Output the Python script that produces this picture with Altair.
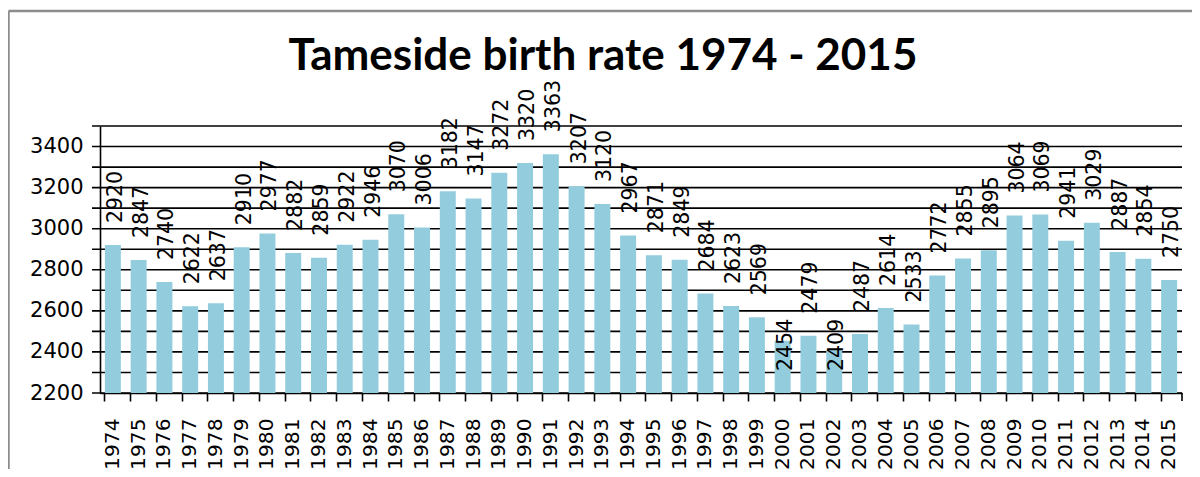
import altair as alt
import pandas as pd

years = [str(y) for y in range(1974, 2016)]
births = [2920, 2847, 2740, 2622, 2637, 2910, 2977, 2882, 2859, 2922,
          2946, 3070, 3006, 3182, 3147, 3272, 3320, 3363, 3207, 3120,
          2967, 2871, 2849, 2684, 2623, 2569, 2454, 2479, 2409, 2487,
          2614, 2533, 2772, 2855, 2895, 3064, 3069, 2941, 3029, 2887,
          2854, 2750]
grid_values = list(range(2200, 3600, 100))
label_values = list(range(2200, 3600, 200))
y_min, y_max = 2200, 3500
title_text = "Tameside birth rate 1974 - 2015"

df = pd.DataFrame({"year": years, "births": births})
grid_df = pd.DataFrame({"v": grid_values})

W, H = 1082, 267
FONT = "DejaVu Sans"
BAR = "#93CDDD"

yscale = alt.Scale(domain=[y_min, y_max], nice=False, zero=False)

grid = alt.Chart(grid_df).mark_rule(color="black", strokeWidth=1.6).encode(
    y=alt.Y("v:Q", scale=yscale, title=None,
            axis=alt.Axis(values=label_values, format="d", labelFont=FONT,
                          labelFontSize=21, labelColor="black",
                          labelPadding=17, ticks=False, tickSize=8,
                          domainColor="black", domainWidth=1.6, grid=False)),
    x=alt.value(-8), x2=alt.value(W),
)

bars = alt.Chart(df).mark_bar(color=BAR).encode(
    x=alt.X("year:N", sort=years, title=None,
            scale=alt.Scale(paddingInner=0.38, paddingOuter=0.19),
            axis=alt.Axis(labelAngle=270, labelFont=FONT, labelFontSize=20.2,
                          labelColor="black", labelPadding=17, tickSize=8,
                          tickColor="black", tickWidth=1.6, domainColor="black",
                          domainWidth=1.6, bandPosition=0, grid=False,
                          labelOverlap=False)),
    y=alt.Y("births:Q", scale=yscale),
    y2=alt.datum(y_min),
)

labels = alt.Chart(df).transform_calculate(
    lab="datum.births < 2460 ? 2200 : datum.births"
).mark_text(angle=270, align="left", baseline="middle", dx=22, dy=3,
            font=FONT, fontSize=20.5, color="black").encode(
    x=alt.X("year:N", sort=years),
    y=alt.Y("lab:Q", scale=yscale),
    text=alt.Text("births:Q", format="d"),
)

one = pd.DataFrame({"t": [title_text]})
title = alt.Chart(one).mark_text(font="Lato", fontSize=44, fontWeight="bold",
                                 color="black", align="center",
                                 baseline="alphabetic").encode(
    x=alt.value(W / 2 - 38), y=alt.value(-56), text="t:N")

frame_left = alt.Chart(one).mark_rule(color="#8c8c8c", strokeWidth=2.5).encode(
    x=alt.value(-91.5), y=alt.value(-115), y2=alt.value(360))
frame_top = alt.Chart(one).mark_rule(color="#8c8c8c", strokeWidth=2.5).encode(
    x=alt.value(-91.5), x2=alt.value(W + 20), y=alt.value(-115))
end_tick = alt.Chart(one).mark_rule(color="black", strokeWidth=1.6).encode(
    x=alt.value(W), y=alt.value(H), y2=alt.value(H + 8))

chart = alt.layer(grid, bars, labels, title, frame_left, frame_top, end_tick).properties(
    width=W, height=H,
    autosize=alt.AutoSizeParams(type="none"),
    padding={"left": 92, "top": 118, "right": 10, "bottom": 76},
).configure_view(stroke=None).configure_axis(labelLimit=0)

chart.save("out.html", embed_options={"renderer": "svg", "actions": False})
